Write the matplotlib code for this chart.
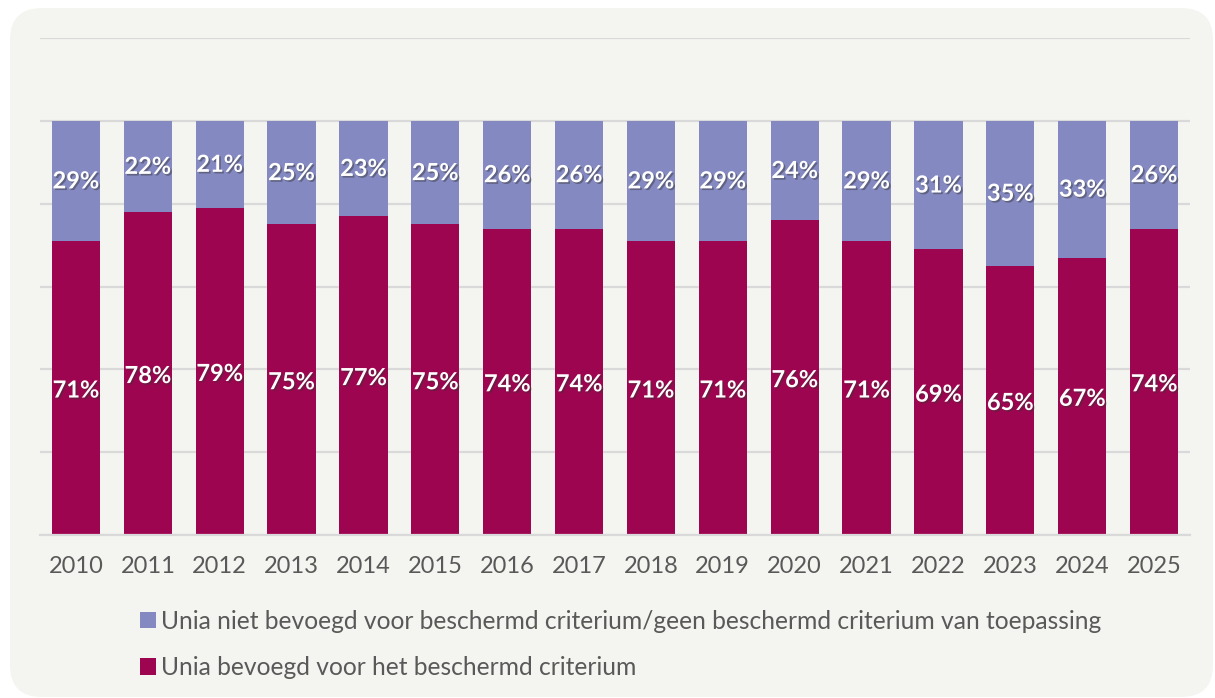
import matplotlib.pyplot as plt
import matplotlib.patheffects as pe
from matplotlib.patches import FancyBboxPatch, Patch
from matplotlib.transforms import IdentityTransform
import numpy as np

# data
jaren = ['2010', '2011', '2012', '2013', '2014', '2015', '2016', '2017',
         '2018', '2019', '2020', '2021', '2022', '2023', '2024', '2025']
bevoegd = [71, 78, 79, 75, 77, 75, 74, 74, 71, 71, 76, 71, 69, 65, 67, 74]
niet_bevoegd = [29, 22, 21, 25, 23, 25, 26, 26, 29, 29, 24, 29, 31, 35, 33, 26]

label_niet = 'Unia niet bevoegd voor beschermd criterium/geen beschermd criterium van toepassing'
label_wel = 'Unia bevoegd voor het beschermd criterium'

kleur_niet = '#8489c2'
kleur_wel = '#9e0550'
grijs = '#595959'

plt.rcParams['font.family'] = ['Lato', 'DejaVu Sans']

fig = plt.figure(figsize=(12.15, 6.98), dpi=100)
fig.patch.set_facecolor('white')

# afgeronde achtergrond
bg = FancyBboxPatch((10, 1), 1203, 689, boxstyle='round,pad=0,rounding_size=32',
                    transform=IdentityTransform(), facecolor='#f4f4f0',
                    edgecolor='none', zorder=-5)
fig.patches.append(bg)

ax = fig.add_axes([40 / 1215, 1 - 535 / 698, 1150 / 1215, (535 - 38) / 698])
ax.set_facecolor('none')
ax.set_zorder(1)

x = np.arange(len(jaren))
b1 = ax.bar(x, bevoegd, width=0.67, color=kleur_wel, zorder=2)
b2 = ax.bar(x, niet_bevoegd, width=0.67, bottom=bevoegd, color=kleur_niet, zorder=2)

schaduw = [pe.withSimplePatchShadow(offset=(1.2, -1.2), shadow_rgbFace='#333333', alpha=0.45)]
for i in range(len(jaren)):
    ax.text(x[i], bevoegd[i] / 2 - 0.5, f'{bevoegd[i]}%', ha='center', va='center',
            color='white', fontsize=17, fontweight='bold', path_effects=schaduw, zorder=3)
    ax.text(x[i], bevoegd[i] + niet_bevoegd[i] / 2, f'{niet_bevoegd[i]}%', ha='center',
            va='center', color='white', fontsize=17, fontweight='bold',
            path_effects=schaduw, zorder=3)

ax.set_xlim(-0.5, len(jaren) - 0.5)
ax.set_ylim(0, 120)
ax.set_yticks([0, 20, 40, 60, 80, 100, 120])
ax.yaxis.grid(True, color='#d9d9d9', linewidth=1.6, zorder=1)
ax.set_axisbelow(True)
for s in ['left', 'right', 'top']:
    ax.spines[s].set_visible(False)
ax.spines['bottom'].set_color('#d9d9d9')
ax.spines['bottom'].set_linewidth(1.6)
ax.tick_params(axis='y', left=False, labelleft=False)
ax.tick_params(axis='x', length=0, pad=15, labelsize=17, labelcolor=grijs)
ax.set_xticks(x)
ax.set_xticklabels(jaren)

handles = [Patch(facecolor=kleur_niet, label=label_niet),
           Patch(facecolor=kleur_wel, label=label_wel)]
leg = fig.legend(handles=handles, loc='upper left', bbox_to_anchor=(130 / 1215, 1 - 600 / 698),
                 frameon=False, fontsize=17.7, handlelength=0.65, handleheight=0.65,
                 handletextpad=0.22, labelspacing=0.95, borderaxespad=0)
for t in leg.get_texts():
    t.set_color(grijs)

fig.savefig('out.png', dpi=100, facecolor='white')
